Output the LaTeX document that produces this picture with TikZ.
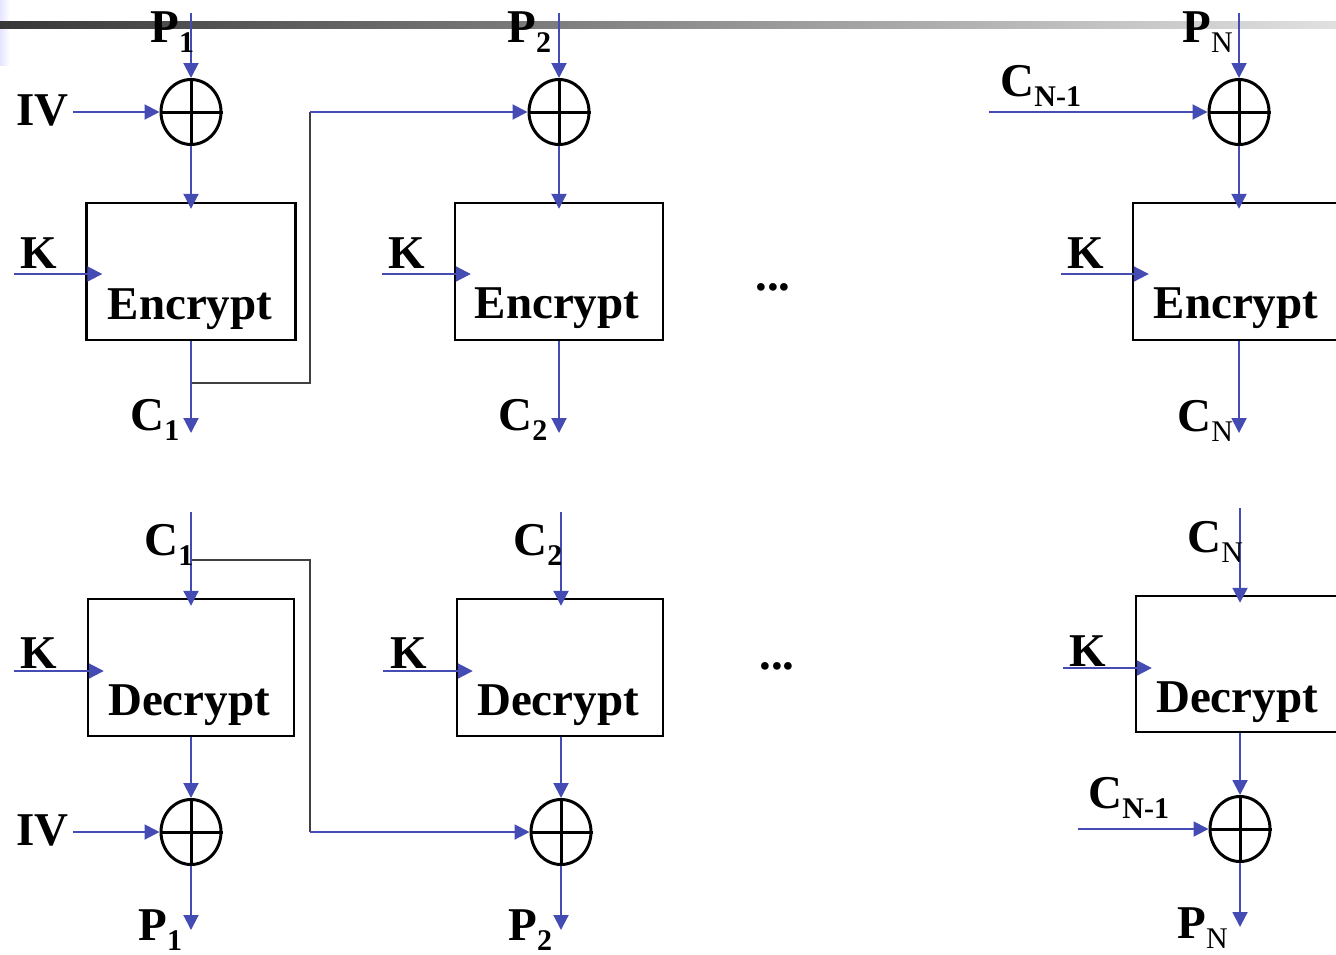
\documentclass[tikz,border=0pt]{standalone}
\usepackage{fontspec}
\setmainfont{Liberation Serif}
\usetikzlibrary{arrows.meta,shapes.geometric}
\definecolor{linkblue}{RGB}{68,76,180}
\newcommand\bigf{\fontsize{23.5pt}{28pt}\selectfont\bfseries}
\newcommand\subf{\fontsize{15pt}{18pt}\selectfont}
\newcommand\sbs[2]{#1\raisebox{-5pt}{\subf #2}}
\begin{document}
\begin{tikzpicture}[x=0.5pt,y=-0.5pt,
 arr/.style={draw=linkblue,line width=1pt,-{Triangle[length=7.5pt,width=7.5pt]}},
 fb/.style={draw=black!75,line width=1pt},
 xorn/.style={ellipse,draw,line width=1.5pt,minimum width=30pt,minimum height=32.5pt,inner sep=0pt},
 box/.style={draw,line width=1.2pt,minimum height=68.5pt,inner sep=0pt},
 lbl/.style={anchor=base west,inner sep=0pt,font=\bigf},
 blk/.style={anchor=base,inner sep=0pt,font=\bigf}]
\useasboundingbox (0,0) rectangle (1336,954);
\clip (0,0) rectangle (1336,954);
% header decoration
\shade[left color=blue!10!white,right color=white] (0,0) rectangle (10,65);
\shade[left color=black!78,right color=black!12] (0,21.5) rectangle (1336,28.5);

% ---------- encryption row ----------
\node[xorn] (x1) at (191,112) {};
\node[xorn] (x2) at (559,112) {};
\node[xorn] (x3) at (1239,112) {};
\foreach \n in {x1,x2,x3}{\draw[line width=1.5pt] (\n.north)--(\n.south) (\n.west)--(\n.east);}
\node[box,minimum width=104.5pt] (e1) at (191,271.5) {};
\node[box,minimum width=104pt] (e2) at (559,271.5) {};
\node[box,minimum width=106pt] (e3) at (1239,271.5) {};
\node[blk] (e1t) at (190,319) {Encrypt};
\node[blk] (e2t) at (557,318) {Encrypt};
\node[blk] (e3t) at (1236,318) {Encrypt};

\coordinate (p1s) at (191,13);
\coordinate (p2s) at (559,13);
\coordinate (pns) at (1239,13);
\coordinate (ivs) at (73,112);
\coordinate (cn1s) at (989,112);
\coordinate (ka1) at (14,274);
\coordinate (ka2) at (382,274);
\coordinate (ka3) at (1061,274);
\coordinate (co1) at (191,433);
\coordinate (co2) at (559,433);
\coordinate (co3) at (1239,433);
\coordinate (s1) at (191,383);
\coordinate (t1) at (310,112);

\draw[fb] (s1) -| (t1);
\draw[arr] (t1) -- (x2.west);
\draw[arr] (p1s) -- (x1.north);
\draw[arr] (p2s) -- (x2.north);
\draw[arr] (pns) -- (x3.north);
\draw[arr] (ivs) -- (x1.west);
\draw[arr] (cn1s) -- (x3.west);
\draw[arr] (x1.south) -- ([yshift=-3.5pt]e1.north);
\draw[arr] (x2.south) -- ([yshift=-3.5pt]e2.north);
\draw[arr] (x3.south) -- ([yshift=-3.5pt]e3.north);
\draw[arr] (ka1) -- ([xshift=8.5pt]ka1 -| e1.west);
\draw[arr] (ka2) -- ([xshift=8.5pt]ka2 -| e2.west);
\draw[arr] (ka3) -- ([xshift=8.5pt]ka3 -| e3.west);
\draw[arr] (e1.south) -- (co1);
\draw[arr] (e2.south) -- (co2);
\draw[arr] (e3.south) -- (co3);

\node[lbl] (lp1) at (150,42) {\sbs{P}{1}};
\node[lbl] (lp2) at (507,42) {\sbs{P}{2}};
\node[lbl] (lpn) at (1182,42) {\sbs{P}{\mdseries N}};
\node[lbl] (liv1) at (16,125) {IV};
\node[lbl] (lcn1) at (1000,96) {\sbs{C}{N-1}};
\node[lbl] (lk1) at (20,268) {K};
\node[lbl] (lk2) at (388,268) {K};
\node[lbl] (lk3) at (1067,268) {K};
\node[lbl] (lc1) at (130,430) {\sbs{C}{1}};
\node[lbl] (lc2) at (498,430) {\sbs{C}{2}};
\node[lbl] (lcn) at (1177,431) {\sbs{C}{\mdseries N}};
\node[lbl] (dots1) at (755,290) {...};

% ---------- decryption row ----------
\node[box,minimum width=103pt] (d1) at (191,667.5) {};
\node[box,minimum width=103pt] (d2) at (560,667.5) {};
\node[box,minimum width=104pt,minimum height=68pt] (d3) at (1240,664) {};
\node[blk] (d1t) at (189,715) {Decrypt};
\node[blk] (d2t) at (558,715) {Decrypt};
\node[blk] (d3t) at (1237,712) {Decrypt};
\node[xorn] (y1) at (191,832) {};
\node[xorn] (y2) at (561,832) {};
\node[xorn] (y3) at (1240,829) {};
\foreach \n in {y1,y2,y3}{\draw[line width=1.5pt] (\n.north)--(\n.south) (\n.west)--(\n.east);}

\coordinate (c1s) at (191,512);
\coordinate (c2s) at (561,512);
\coordinate (cns) at (1240,508);
\coordinate (kb1) at (14,671);
\coordinate (kb2) at (383,671);
\coordinate (kb3) at (1063,668);
\coordinate (iv2s) at (73,832);
\coordinate (cn1bs) at (1078,829);
\coordinate (po1) at (191,930);
\coordinate (po2) at (561,930);
\coordinate (po3) at (1240,927);
\coordinate (s2) at (191,560);
\coordinate (t2) at (310,832);

\draw[fb] (s2) -| (t2);
\draw[arr] (t2) -- (y2.west);
\draw[arr] (c1s) -- ([yshift=-4pt]c1s |- d1.north);
\draw[arr] (c2s) -- ([yshift=-4pt]c2s |- d2.north);
\draw[arr] (cns) -- ([yshift=-4pt]cns |- d3.north);
\draw[arr] (kb1) -- ([xshift=8.5pt]kb1 -| d1.west);
\draw[arr] (kb2) -- ([xshift=8.5pt]kb2 -| d2.west);
\draw[arr] (kb3) -- ([xshift=8.5pt]kb3 -| d3.west);
\draw[arr] (y1.north |- d1.south) -- (y1.north);
\draw[arr] (y2.north |- d2.south) -- (y2.north);
\draw[arr] (y3.north |- d3.south) -- (y3.north);
\draw[arr] (iv2s) -- (y1.west);
\draw[arr] (cn1bs) -- (y3.west);
\draw[arr] (y1.south) -- (po1);
\draw[arr] (y2.south) -- (po2);
\draw[arr] (y3.south) -- (po3);

\node[lbl] (lc1b) at (144,555) {\sbs{C}{1}};
\node[lbl] (lc2b) at (513,555) {\sbs{C}{2}};
\node[lbl] (lcnb) at (1187,552) {\sbs{C}{\mdseries N}};
\node[lbl] (lk1b) at (20,668) {K};
\node[lbl] (lk2b) at (390,668) {K};
\node[lbl] (lk3b) at (1069,666) {K};
\node[lbl] (liv2) at (16,845) {IV};
\node[lbl] (lcn1b) at (1088,808) {\sbs{C}{N-1}};
\node[lbl] (lp1b) at (138,940) {\sbs{P}{1}};
\node[lbl] (lp2b) at (508,940) {\sbs{P}{2}};
\node[lbl] (lpnb) at (1177,938) {\sbs{P}{\mdseries N}};
\node[lbl] (dots2) at (759,669) {...};
\end{tikzpicture}
\end{document}
